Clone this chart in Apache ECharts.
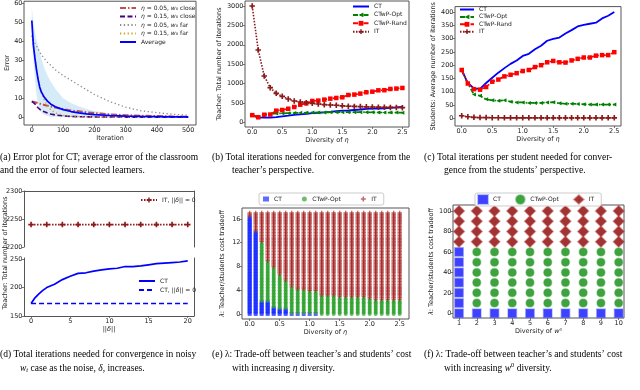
<!DOCTYPE html>
<html>
<head>
<meta charset="utf-8">
<title>Classroom teaching results</title>
<script src="https://cdn.jsdelivr.net/npm/echarts@6.0.0/dist/echarts.min.js"></script>
<style>
  html, body { margin: 0; padding: 0; background: #fff; }
  #fig { width: 640px; height: 390px; }
</style>
</head>
<body>
<div id="fig"></div>
<script>
// (a) error of the classroom per iteration
var iterX      = [0, 5, 10, 15, 20, 25, 30, 40, 50, 60, 75, 100, 125, 150, 175, 200, 250, 300, 350, 400, 450, 500];
var errClose05 = [8.3, 8.2, 7.9, 7.6, 7.4, 7.1, 6.9, 6.5, 6.1, 5.7, 5.1, 4.3, 3.6, 3.1, 2.6, 2.2, 1.5, 1.1, 0.8, 0.6, 0.4, 0.3];
var errClose15 = [8.3, 7.8, 7.0, 6.0, 5.0, 4.0, 3.5, 2.9, 2.2, 1.7, 1.2, 0.7, 0.4, 0.3, 0.2, 0.15, 0.1, 0.08, 0.06, 0.05, 0.05, 0.05];
var errFar05   = [43, 41, 39, 37.5, 36, 34.5, 33, 31, 29, 27.5, 25, 22, 19.5, 17, 14.5, 12, 8.2, 5.3, 3.4, 2.4, 1.6, 1.0];
var errFar15   = [43, 38, 32, 26, 21, 17, 13, 9, 6, 4, 2.3, 1.0, 0.5, 0.3, 0.2, 0.15, 0.1, 0.1, 0.05, 0.05, 0.05, 0.05];
var errAvg     = [51, 38, 31, 25, 20, 16, 13.5, 10.5, 8.5, 7, 5.5, 4, 3, 2.3, 1.8, 1.4, 0.9, 0.6, 0.4, 0.3, 0.2, 0.15];
var errBandHi  = [58, 50, 45, 41, 38, 35, 31, 26, 22, 19, 15, 10, 7.5, 5.8, 4.4, 3.3, 2, 1.3, 0.9, 0.6, 0.4, 0.3];
var errBandLo  = [44, 30, 20, 12, 7, 4, 2.5, 1.2, 0.6, 0.3, 0.1, 0, 0, 0, 0, 0, 0, 0, 0, 0, 0, 0];

// (b) teacher and (c) students, against diversity of eta
var eta = [0.0, 0.1, 0.2, 0.3, 0.4, 0.5, 0.6, 0.7, 0.8, 0.9, 1.0, 1.1, 1.2, 1.3, 1.4, 1.5, 1.6, 1.7, 1.8, 1.9, 2.0, 2.1, 2.2, 2.3, 2.4, 2.5];
var teachCT   = [180, 125, 120, 120, 135, 155, 172, 190, 205, 218, 235, 245, 258, 270, 290, 300, 305, 318, 330, 345, 352, 356, 362, 376, 386, 400];
var teachOpt  = [180, 130, 200, 215, 228, 232, 236, 240, 244, 248, 252, 254, 256, 258, 260, 262, 261, 260, 261, 260, 258, 255, 252, 251, 250, 248];
var teachRand = [185, 130, 195, 200, 300, 318, 350, 395, 455, 490, 550, 560, 585, 610, 628, 645, 705, 715, 740, 775, 790, 825, 828, 860, 870, 886];
var teachIT   = [3000, 1866, 1195, 894, 748, 670, 602, 550, 525, 507, 490, 473, 456, 447, 439, 425, 415, 410, 405, 400, 395, 390, 387, 384, 381, 378];
var stuCT   = [182, 133, 113, 111, 133, 153, 172, 189, 205, 218, 235, 243, 260, 273, 292, 299, 304, 319, 332, 346, 352, 356, 360, 376, 386, 400];
var stuOpt  = [182, 131, 90, 85, 72, 68, 66, 68, 63, 60, 60, 58, 58, 58, 60, 61, 57, 55, 55, 54, 53, 52, 52, 52, 52, 52];
var stuRand = [182, 131, 110, 108, 118, 138, 146, 158, 164, 170, 178, 182, 193, 200, 211, 216, 211, 210, 218, 224, 229, 229, 236, 238, 238, 249];
var stuIT   = [10, 6, 4, 3, 3, 2.5, 2.5, 2, 2, 2, 2, 2, 2, 2, 2, 2, 2, 2, 2, 2, 2, 2, 2, 2, 2, 2];

// (d) noisy w_t
var deltaX   = [0, 0.5, 1, 1.5, 2, 3, 4, 5, 6, 7, 8, 9, 10, 11, 12, 13, 14, 15, 16, 17, 18, 19, 20];
var ctNoisy  = [172, 182, 189, 195, 200, 206, 214, 220, 225, 226, 229, 231, 233, 234, 237, 237, 238, 240, 242, 243, 244, 245, 247];
var ctCleanX = [0, 20];
var ctClean  = [172, 172];
var itCleanX = [0, 2, 4, 6, 8, 10, 12, 14, 16, 18, 20];
var itClean  = [2240, 2240, 2240, 2240, 2240, 2240, 2240, 2240, 2240, 2240, 2240];

// (e) best method per (eta diversity, lambda): top lambda of each region
var eCtTop  = [16.3, 13.9, 2.2, 2.2, 1.2, 0.8, 0.8, 0.2, 0.2, 0.2, 0.2, 0.2, -1, -1, -1, -1, -1, -1, -1, -1, -1, -1, -1, -1, -1, -1];
var eOptTop = [16.3, 13.9, 12.2, 8.8, 7.8, 6.7, 5.7, 4.7, 4.2, 4.2, 3.9, 3.8, 3.2, 3.2, 3.2, 2.9, 2.8, 2.8, 2.8, 2.8, 2.5, 2.4, 2.3, 2.3, 2.3, 2.3];
var eLamMax = 17, eLamStep = 0.25;

// (f) best method per (w0 diversity, lambda)
var wDiv    = [1, 2, 3, 4, 5, 6, 7, 8, 9, 10];
var fLambda = [0, 10, 20, 30, 40, 50, 60, 70, 80, 90, 100];
var fCtTop  = [60, 0, 0, 0, 0, 0, 0, 0, 0, 0];
var fOptTop = [60, 60, 60, 60, 60, 60, 60, 60, 60, 60];

// tick labels
var ticksIter  = [0, 100, 200, 300, 400, 500];
var ticksErr   = [0, 10, 20, 30, 40, 50, 60];
var ticksEta   = [0, 0.5, 1, 1.5, 2, 2.5];
var ticksTeach = [0, 500, 1000, 1500, 2000, 2500, 3000];
var ticksStu   = [0, 50, 100, 150, 200, 250, 300, 350, 400];
var ticksDelta = [0, 5, 10, 15, 20];
var ticksDTop  = [2200, 2250, 2300];
var ticksDBot  = [150, 200, 250];
var ticksLamE  = [0, 4, 8, 12, 16];
var ticksW     = [1, 2, 3, 4, 5, 6, 7, 8, 9, 10];
var ticksLamF  = [0, 20, 40, 60, 80, 100];

var font = 'DejaVu Sans';
var frame = '#555';
var txt = '#222';
var tickFont = 6.5;
var plusSym = 'path://M0.35,0H0.65V0.35H1V0.65H0.65V1H0.35V0.65H0V0.35H0.35Z';
var rich = {
  i: { fontStyle: 'italic', fontFamily: font, fontSize: 6, color: txt }
};

function pairs(xs, ys) {
  return xs.map(function (x, i) { return [x, ys[i]]; });
}
function richName(name) {
  return name.replace(/^[a-f]:/, '').replace(/([ηλδ])/g, '{i|$1}').replace('w₀', '{i|w}₀');
}
function fixed1(v) { return v.toFixed(1); }
function plain(v) { return String(v); }

function axis(grid, min, max, ticks, opt) {
  opt = opt || {};
  var a = {
    type: 'value', gridIndex: grid, min: min, max: max,
    position: opt.position,
    axisLine: { show: !!opt.line, onZero: false, lineStyle: { color: frame, width: 1 } },
    axisTick: { show: !!ticks, length: 2, customValues: ticks || [], lineStyle: { color: frame, width: 0.8 } },
    axisLabel: { show: !!ticks, customValues: ticks || [], margin: 1.5, fontSize: tickFont, color: txt, fontFamily: font, formatter: opt.fmt || plain },
    splitLine: { show: false }
  };
  if (opt.name) {
    a.name = opt.name;
    a.nameLocation = 'middle';
    a.nameGap = opt.gap;
    a.nameTextStyle = { fontSize: 6.5, color: txt, fontFamily: font, rich: { i: { fontStyle: 'italic', fontSize: 6.5, fontFamily: font, color: txt } } };
  }
  return a;
}

function line(name, xs, ys, xi, yi, color, width, dash, symbol, size) {
  return {
    type: 'line', name: name, xAxisIndex: xi, yAxisIndex: yi,
    data: pairs(xs, ys),
    lineStyle: { color: color, width: width, type: dash || 'solid' },
    itemStyle: { color: color },
    symbol: symbol || 'none', symbolSize: size || 4, showSymbol: !!symbol,
    symbolRotate: symbol === 'triangle' ? 90 : 0,
    z: 3
  };
}

function regions(xs, lams, ctTop, optTop) {
  var out = { ct: [], opt: [], it: [] };
  xs.forEach(function (x, i) {
    lams.forEach(function (l) {
      if (l <= ctTop[i] + 1e-9) out.ct.push([x, l]);
      else if (l <= optTop[i] + 1e-9) out.opt.push([x, l]);
      else out.it.push([x, l]);
    });
  });
  return out;
}
var eLams = [];
for (var k = 0; k * eLamStep <= eLamMax + 1e-9; k++) eLams.push(k * eLamStep);
var eReg = regions(eta, eLams, eCtTop, eOptTop);
var fReg = regions(wDiv, fLambda, fCtTop, fOptTop);

var boxGrid = { show: true, borderColor: frame, borderWidth: 1, backgroundColor: 'transparent' };
function grid(l, t, w, h, box) {
  var g = { left: l, top: t, width: w, height: h, containLabel: false };
  return box ? Object.assign(g, boxGrid) : g;
}

// line entries without markers get no legend symbol
function noMark(name) { return { name: name, itemStyle: { opacity: 0 } }; }

function legend(names, left, top, opt) {
  opt = opt || {};
  return Object.assign({
    data: names, left: left, top: top, orient: 'vertical',
    itemWidth: 16, itemHeight: 6, itemGap: 2.5, padding: 0,
    formatter: richName,
    textStyle: { fontSize: 6, color: txt, fontFamily: font, rich: rich },
    selectedMode: false
  }, opt);
}

var capStyle = {
  fontFamily: 'Liberation Serif', fontSize: 9.5, fontWeight: 'normal', color: '#000',
  rich: {
    i: { fontFamily: 'Liberation Serif', fontSize: 9.5, fontStyle: 'italic', color: '#000' },
    sub: { fontFamily: 'Liberation Serif', fontSize: 6.5, fontStyle: 'italic', color: '#000', padding: [5, 0, 0, 0] },
    sup: { fontFamily: 'Liberation Serif', fontSize: 6.5, color: '#000', padding: [0, 0, 5, 0] }
  }
};
function cap(text, left, top) {
  return { text: text, left: left, top: top, padding: 0, itemGap: 0, textStyle: capStyle };
}

var option = {
  animation: false,
  backgroundColor: '#fff',
  textStyle: { fontFamily: font },
  title: [
    cap('(a) Error plot for CT; average error of the classroom', 0, 152),
    cap('and the error of four selected learners.', 0, 165),
    cap('(b) Total iterations needed for convergence from the', 212, 152),
    cap('teacher’s perspective.', 232, 165),
    cap('(c) Total iterations per student needed for conver-', 424, 152),
    cap('gence from the students’ perspective.', 444, 165),
    cap('(d) Total iterations needed for convergence in noisy', 0, 349),
    cap('{i|w}{sub|t} case as the noise, {i|δ}, increases.', 20, 362),
    cap('(e) λ: Trade-off between teacher’s and students’ cost', 212, 349),
    cap('with increasing {i|η} diversity.', 232, 363),
    cap('(f) λ: Trade-off between teacher’s and students’ cost', 424, 349),
    cap('with increasing {i|w}{sup|0} diversity.', 444, 362)
  ],
  graphic: [{
    type: 'text', x: 5, y: 253, rotation: Math.PI / 2,
    style: { text: 'Teacher: Total number of iterations', fontSize: 6.5, fontFamily: font, fill: txt, align: 'center', verticalAlign: 'middle' }
  }],
  grid: [
    grid(24, 1, 172, 124, true),    // a
    grid(245, 1, 164, 126, true),   // b
    grid(455, 1, 166, 125, true),   // c
    grid(24, 191, 170, 56, false),  // d top
    grid(24, 258, 170, 58, false),  // d bottom
    grid(242, 208, 167, 111, true), // e
    grid(453, 205, 171, 113, true)  // f
  ],
  xAxis: [
    axis(0, -25, 525, ticksIter, { name: 'Iteration', gap: 9 }),
    axis(1, -0.12, 2.61, ticksEta, { name: 'Diversity of {i|η}', gap: 9, fmt: fixed1 }),
    axis(2, -0.11, 2.61, ticksEta, { name: 'Diversity of {i|η}', gap: 9, fmt: fixed1 }),
    axis(3, -0.9, 20.8, null, { position: 'top', line: true }),
    axis(4, -0.9, 20.8, ticksDelta, { position: 'bottom', line: true, name: '||{i|δ}||', gap: 9 }),
    axis(5, -0.128, 2.655, ticksEta, { name: 'Diversity of {i|η}', gap: 9, fmt: fixed1 }),
    axis(6, 0.66, 10.3, ticksW, { name: 'Diversity of {i|w}⁰', gap: 9 })
  ],
  yAxis: [
    axis(0, -4.1, 61.2, ticksErr, { name: 'Error', gap: 11.5 }),
    axis(1, -121, 3129, ticksTeach, { name: 'Teacher: Total number of iterations', gap: 19.5 }),
    axis(2, -28.7, 420.5, ticksStu, { name: 'Students: Average number of iterations', gap: 14.5 }),
    axis(3, 2200, 2300, ticksDTop, { position: 'left', line: true }),
    axis(3, 2200, 2300, null, { position: 'right', line: true }),
    axis(4, 150, 252, ticksDBot, { position: 'left', line: true }),
    axis(4, 150, 252, null, { position: 'right', line: true }),
    axis(5, -0.84, 17.85, ticksLamE, { name: '{i|λ}: Teacher/students cost tradeoff', gap: 16.5 }),
    axis(6, -4.6, 105.9, ticksLamF, { name: '{i|λ}: Teacher/students cost tradeoff', gap: 17.5 })
  ],
  legend: [
    legend([noMark('a:η = 0.05, w₀ close'), noMark('a:η = 0.15, w₀ close'), noMark('a:η = 0.05, w₀ far'), noMark('a:η = 0.15, w₀ far'), noMark('a:Average')], 119, 5),
    legend([noMark('b:CT'), 'b:CTwP-Opt', 'b:CTwP-Rand', 'b:IT'], 352, 3.5, { itemGap: 2.4 }),
    legend([noMark('c:CT'), 'c:CTwP-Opt', 'c:CTwP-Rand', 'c:IT'], 459, 6.5, { itemWidth: 14, itemGap: 1.4 }),
    legend(['d:IT, ||δ|| = 0'], 140, 197),
    legend([noMark('d:CT'), noMark('d:CT, ||δ|| = 0')], 138, 278, { itemGap: 3 }),
    legend(['e:CT', 'e:CTwP-Opt', 'e:IT'], 259, 193, {
      orient: 'horizontal', itemWidth: 6, itemHeight: 5, itemGap: 20,
      padding: [3, 7, 3, 4], borderColor: '#ccc', borderWidth: 1, borderRadius: 2, backgroundColor: '#fff'
    }),
    legend(['f:CT', 'f:CTwP-Opt', 'f:IT'], 475, 193, {
      orient: 'horizontal', itemWidth: 10, itemHeight: 9, itemGap: 14,
      padding: [1, 7, 1, 2], borderColor: '#ccc', borderWidth: 1, borderRadius: 2, backgroundColor: '#fff'
    })
  ],
  series: [
    // (a) spread of the learners' error around the average
    {
      type: 'custom', name: 'a:band', xAxisIndex: 0, yAxisIndex: 0, z: 1, clip: true,
      data: pairs(iterX, errBandHi),
      renderItem: function (params, api) {
        if (params.dataIndex !== 0) return null;
        var pts = [];
        iterX.forEach(function (x, i) { pts.push(api.coord([x, errBandHi[i]])); });
        for (var i = iterX.length - 1; i >= 0; i--) pts.push(api.coord([iterX[i], errBandLo[i]]));
        return { type: 'polygon', shape: { points: pts }, style: { fill: 'rgba(135,200,235,0.35)' } };
      }
    },
    line('a:η = 0.05, w₀ close', iterX, errClose05, 0, 0, '#c0504d', 2, [6, 2, 1.5, 2]),
    line('a:η = 0.15, w₀ close', iterX, errClose15, 0, 0, '#4b0082', 1.6, [5, 2.5]),
    line('a:η = 0.05, w₀ far', iterX, errFar05, 0, 0, '#8a8a8a', 1.3, [1.3, 2.5]),
    line('a:η = 0.15, w₀ far', iterX, errFar15, 0, 0, '#d4a020', 1.3, [1.3, 2.5]),
    line('a:Average', iterX, errAvg, 0, 0, '#0000ff', 1.7),

    // (b)
    line('b:CT', eta, teachCT, 1, 1, '#0000ff', 1.8),
    line('b:CTwP-Opt', eta, teachOpt, 1, 1, '#008000', 1.7, [5, 2, 1.5, 2], 'triangle', 4),
    line('b:CTwP-Rand', eta, teachRand, 1, 1, '#ff0000', 1.7, [5, 2, 1.5, 2], 'rect', 4.5),
    line('b:IT', eta, teachIT, 1, 1, '#8b1a1a', 1.6, [1.5, 1.5], plusSym, 5.5),

    // (c)
    line('c:CT', eta, stuCT, 2, 2, '#0000ff', 1.8),
    line('c:CTwP-Opt', eta, stuOpt, 2, 2, '#008000', 1.7, [5, 2, 1.5, 2], 'triangle', 4),
    line('c:CTwP-Rand', eta, stuRand, 2, 2, '#ff0000', 1.7, [5, 2, 1.5, 2], 'rect', 4.5),
    line('c:IT', eta, stuIT, 2, 2, '#8b1a1a', 1.6, [1.5, 1.5], plusSym, 5.5),

    // (d)
    line('d:IT, ||δ|| = 0', itCleanX, itClean, 3, 3, '#8b1a1a', 1.6, [1.5, 1.5], plusSym, 5.5),
    line('d:CT', deltaX, ctNoisy, 4, 5, '#0000ff', 1.7),
    line('d:CT, ||δ|| = 0', ctCleanX, ctClean, 4, 5, '#0000ff', 1.7, [5, 3]),

    // (e)
    { type: 'scatter', name: 'e:CT', xAxisIndex: 5, yAxisIndex: 7, data: eReg.ct, symbol: 'rect', symbolSize: 4, itemStyle: { color: 'rgba(20,40,255,0.85)' } },
    { type: 'scatter', name: 'e:CTwP-Opt', xAxisIndex: 5, yAxisIndex: 7, data: eReg.opt, symbol: 'circle', symbolSize: 4, itemStyle: { color: 'rgba(40,160,40,0.85)' } },
    { type: 'scatter', name: 'e:IT', xAxisIndex: 5, yAxisIndex: 7, data: eReg.it, symbol: plusSym, symbolSize: 4.5, itemStyle: { color: 'rgba(165,35,35,0.85)' } },

    // (f)
    { type: 'scatter', name: 'f:CT', xAxisIndex: 6, yAxisIndex: 8, data: fReg.ct, symbol: 'rect', symbolSize: 8.5, itemStyle: { color: '#1010ff', borderColor: 'rgba(80,100,255,0.5)', borderWidth: 1.5 } },
    { type: 'scatter', name: 'f:CTwP-Opt', xAxisIndex: 6, yAxisIndex: 8, data: fReg.opt, symbol: 'circle', symbolSize: 8, itemStyle: { color: '#108a10', borderColor: 'rgba(60,170,60,0.5)', borderWidth: 1.5 } },
    { type: 'scatter', name: 'f:IT', xAxisIndex: 6, yAxisIndex: 8, data: fReg.it, symbol: 'diamond', symbolSize: 11, itemStyle: { color: '#8b0000', borderColor: 'rgba(190,80,80,0.5)', borderWidth: 1.5 } }
  ]
};

var myChart = echarts.init(document.getElementById('fig'));
myChart.setOption(option);
</script>
</body>
</html>
